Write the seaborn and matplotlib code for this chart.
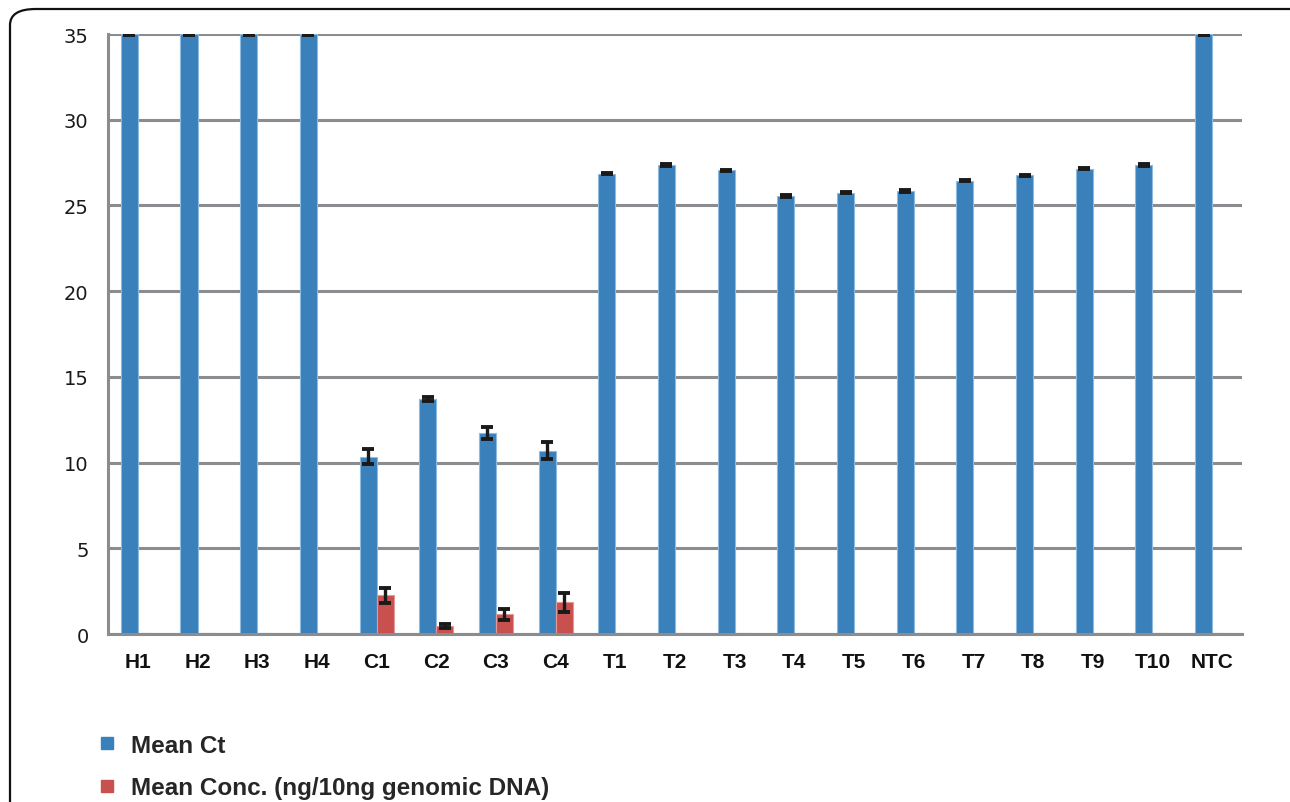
import matplotlib
matplotlib.use("Agg")
import matplotlib.pyplot as plt
from matplotlib.patches import FancyBboxPatch
from matplotlib.lines import Line2D
import numpy as np
import pandas as pd
import seaborn as sns

samples = ["H1", "H2", "H3", "H4", "C1", "C2", "C3", "C4", "T1", "T2",
           "T3", "T4", "T5", "T6", "T7", "T8", "T9", "T10", "NTC"]
mean_ct = [35, 35, 35, 35, 10.35, 13.7, 11.7, 10.7, 26.85, 27.35,
           27.05, 25.55, 25.75, 25.85, 26.45, 26.75, 27.15, 27.35, 35]
ct_err = [0.04, 0.04, 0.04, 0.04, 0.45, 0.12, 0.35, 0.5, 0.04, 0.04,
          0.04, 0.04, 0.04, 0.04, 0.04, 0.04, 0.04, 0.04, 0.04]
mean_conc = [0.05, 0.05, 0.05, 0.05, 2.25, 0.47, 1.15, 1.85, 0.05, 0.05,
             0.05, 0.05, 0.05, 0.05, 0.05, 0.05, 0.05, 0.05, 0.05]
conc_err = [0, 0, 0, 0, 0.45, 0.1, 0.33, 0.55, 0, 0,
            0, 0, 0, 0, 0, 0, 0, 0, 0]

series = ["Mean Ct", "Mean Conc. (ng/10ng genomic DNA)"]
colors = ["#3a80bb", "#c8504e"]
edges = ["#8fbbe0", "#e09a98"]

df = pd.DataFrame({
    "sample": samples * 2,
    "value": mean_ct + mean_conc,
    "series": [series[0]] * len(samples) + [series[1]] * len(samples),
})

sns.set_style("white")
plt.rcParams["font.family"] = ["Liberation Sans", "DejaVu Sans"]

fig = plt.figure(figsize=(12.9, 8.03), dpi=100)
ax = fig.add_axes([0.0837, 0.2092, 0.8791, 0.7472])

sns.barplot(data=df, x="sample", y="value", hue="series", order=samples,
            hue_order=series, palette=colors, width=0.57, ax=ax,
            legend=False, errorbar=None, saturation=1)

for cont, errs, ec in zip(ax.containers, [ct_err, conc_err], edges):
    for b in cont:
        b.set_edgecolor(ec)
        b.set_linewidth(0.8)
    pts = [(b.get_x() + b.get_width() / 2, b.get_height(), e)
           for b, e in zip(cont, errs) if e > 0]
    xs, hs, es = zip(*pts)
    ax.errorbar(xs, hs, yerr=es, fmt="none", ecolor="#1a1a1a",
                elinewidth=2.4, capsize=4.6, capthick=2.8, zorder=5)

ax.set_xlim(-0.5, len(samples) - 0.5)
ax.set_ylim(0, 35)
ax.set_yticks(range(0, 36, 5))
ax.set_xlabel("")
ax.set_ylabel("")

grid_c = "#8a8c8f"
ax.yaxis.grid(True, color=grid_c, linewidth=2.2)
ax.set_axisbelow(True)
for s in ["top", "right"]:
    ax.spines[s].set_visible(False)
for s in ["left", "bottom"]:
    ax.spines[s].set_color(grid_c)
    ax.spines[s].set_linewidth(2.2)

ax.tick_params(axis="y", length=6, width=2.2, color=grid_c, labelsize=14,
               pad=8, labelcolor="#1a1a1a")
for lab in ax.get_yticklabels():
    lab.set_family(["DejaVu Sans"])
ax.set_xticks(np.arange(-0.5, len(samples)), minor=True)
ax.tick_params(axis="x", which="minor", length=7, width=2.2, color=grid_c)
ax.tick_params(axis="x", which="major", length=0, labelsize=15, pad=13,
               labelcolor="#111111")
for lab in ax.get_xticklabels():
    lab.set_fontweight("bold")

# legend below plot
handles = [Line2D([0], [0], marker="s", linestyle="", markersize=9,
                  markerfacecolor=c, markeredgecolor=c) for c in colors]
fig.legend(handles, series, loc="upper left", bbox_to_anchor=(0.066, 0.097),
           frameon=False, prop={"weight": "bold", "size": 17.5},
           labelspacing=0.8, handletextpad=0.5, handlelength=1.0,
           borderaxespad=0)

# rounded frame around the figure
frame = FancyBboxPatch((10 / 1290, -0.1), 1.05, 1.1 - 10 / 803,
                       boxstyle="round,pad=0,rounding_size=0.02",
                       transform=fig.transFigure, facecolor="none",
                       edgecolor="#111111", linewidth=1.6, clip_on=False)
fig.add_artist(frame)

fig.savefig("out.png", dpi=100)
